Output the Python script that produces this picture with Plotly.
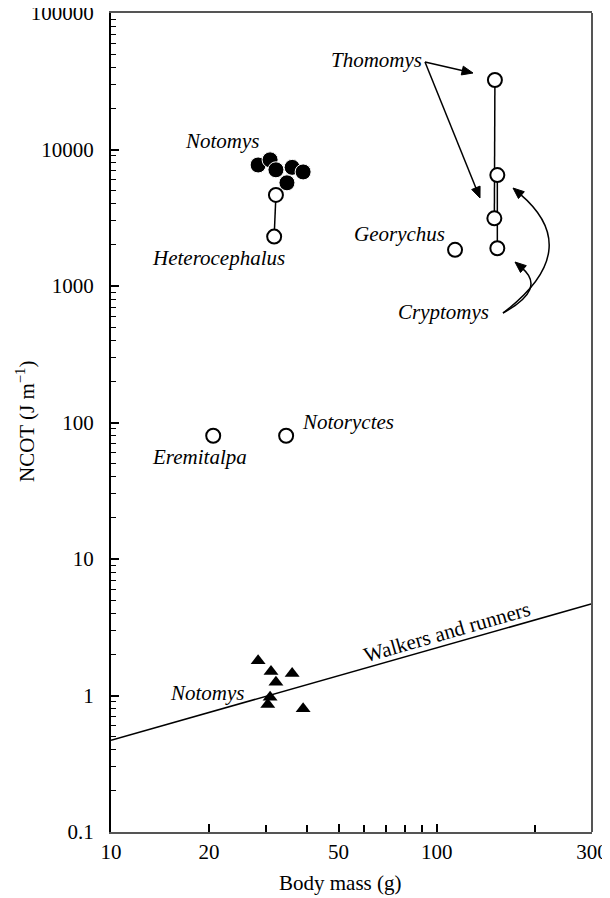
import math
import plotly.graph_objects as go

# ---------------- data ----------------
notomys_burrow_mass = [28.3, 30.8, 32.1, 36.0, 38.9, 34.7]
notomys_burrow_ncot = [7700, 8400, 7100, 7400, 6850, 5700]

hetero_mass = [32.1, 31.7]
hetero_ncot = [4650, 2300]

thomomys_mass = [151.0, 150.4]
thomomys_ncot = [32300, 3130]

cryptomys_mass = [153.6, 153.6]
cryptomys_ncot = [6500, 1890]

georychus_mass = [113.9]
georychus_ncot = [1840]

eremitalpa_mass = [20.6]
eremitalpa_ncot = [80]

notoryctes_mass = [34.5]
notoryctes_ncot = [80]

notomys_run_mass = [28.3, 31.0, 32.1, 30.8, 30.3, 36.0, 38.9]
notomys_run_ncot = [1.8, 1.5, 1.25, 0.97, 0.86, 1.45, 0.8]

walk_mass = [10, 300]
walk_ncot = [0.47, 4.7]

x_tickvals = [10, 20, 50, 100, 300]
x_ticktext = ["10", "20", "50", "100", "300"]
x_minor = [30, 40, 60, 70, 80, 90, 200]
y_tickvals = [0.1, 1, 10, 100, 1000, 10000, 100000]
y_ticktext = ["0.1", "1", "10", "100", "1000", "10000", "100000"]
y_minor = [m * 10 ** e for e in range(-1, 5) for m in range(2, 10)]

# ---------------- layout geometry ----------------
# the page body has an 8px default margin, so the figure is drawn 8px in from
# the top-left corner of the 610x898 window
OFF = 8
W, H = 610 - OFF, 898 - OFF
L, T = 111 - OFF, 13 - OFF
R, B = W - (592 - OFF), H - (832 - OFF)
PW, PH = W - L - R, H - T - B


def pp(xp, yp):
    """window pixel -> paper coordinates"""
    return (xp - OFF - L) / PW, (H - B - (yp - OFF)) / PH


FONT = "Liberation Serif"
fig = go.Figure()

# lines
for xs, ys in [(walk_mass, walk_ncot), (hetero_mass, hetero_ncot),
               (thomomys_mass, thomomys_ncot), (cryptomys_mass, cryptomys_ncot)]:
    fig.add_trace(go.Scatter(x=xs, y=ys, mode="lines",
                             line=dict(color="black", width=1.5), hoverinfo="skip"))

# filled circles
fig.add_trace(go.Scatter(x=notomys_burrow_mass, y=notomys_burrow_ncot, mode="markers",
                         marker=dict(symbol="circle", size=16, color="black",
                                     line=dict(color="white", width=1))))
# open circles
open_style = dict(symbol="circle", size=14, color="white", line=dict(color="black", width=2))
for xs, ys in [(hetero_mass, hetero_ncot), (thomomys_mass, thomomys_ncot),
               (cryptomys_mass, cryptomys_ncot), (georychus_mass, georychus_ncot),
               (eremitalpa_mass, eremitalpa_ncot), (notoryctes_mass, notoryctes_ncot)]:
    fig.add_trace(go.Scatter(x=xs, y=ys, mode="markers", marker=open_style))
# triangles
fig.add_trace(go.Scatter(x=notomys_run_mass, y=notomys_run_ncot, mode="markers",
                         marker=dict(symbol="triangle-up", size=13, color="black")))

ann = []


def label(text, xp, yp, italic=True, size=21, angle=0):
    x, y = pp(xp, yp)
    ann.append(dict(text=text, x=x, y=y, xref="paper", yref="paper", showarrow=False,
                    xanchor="center", yanchor="middle", textangle=angle,
                    font=dict(family=FONT, size=size, color="black",
                              style="italic" if italic else "normal")))


label("Notomys", 222, 141)
label("Heterocephalus", 218, 258)
label("Thomomys", 376, 60)
label("Georychus", 399, 234)
label("Cryptomys", 443, 312)
label("Eremitalpa", 199, 457)
label("Notoryctes", 348, 422)
label("Notomys", 207, 693)
label("Walkers and runners", 447, 632, italic=False, size=21, angle=-16)
label("NCOT (J m<sup>−1</sup>)", 25, 422, italic=False, size=21, angle=-90)
label("Body mass (g)", 340, 883, italic=False, size=21)

shapes = []


def head(tip, direction, length=11, half=4.5):
    """filled arrow head at pixel tip, pointing along direction (pixel vector)"""
    dx, dy = direction
    n = math.hypot(dx, dy)
    ux, uy = dx / n, dy / n
    bx, by = tip[0] - ux * length, tip[1] - uy * length
    p1 = (bx - uy * half, by + ux * half)
    p2 = (bx + uy * half, by - ux * half)
    pts = [pp(*tip), pp(*p1), pp(*p2)]
    path = "M " + " L ".join(f"{a},{b}" for a, b in pts) + " Z"
    shapes.append(dict(type="path", xref="paper", yref="paper", path=path,
                       fillcolor="black", line=dict(color="black", width=1)))
    return (tip[0] - ux * (length - 2), tip[1] - uy * (length - 2))


def straight_arrow(tail, tip):
    end = head(tip, (tip[0] - tail[0], tip[1] - tail[1]))
    a = pp(*tail); b = pp(*end)
    shapes.append(dict(type="line", xref="paper", yref="paper",
                       x0=a[0], y0=a[1], x1=b[0], y1=b[1],
                       line=dict(color="black", width=1.5)))


# Thomomys straight arrows
straight_arrow((425, 62), (473, 73))
straight_arrow((425, 62), (480, 198))

# Cryptomys curved arrows
curves = [((503, 313), (586, 250), (513, 188)),
          ((503, 313), (547, 289), (515, 262))]
for p0, c, p2 in curves:
    end = head(p2, (p2[0] - c[0], p2[1] - c[1]))
    a = pp(*p0); b = pp(*c); d = pp(*end)
    shapes.append(dict(type="path", xref="paper", yref="paper",
                       path=f"M {a[0]},{a[1]} Q {b[0]},{b[1]} {d[0]},{d[1]}",
                       line=dict(color="black", width=1.5)))

# right frame line (grey)
shapes.append(dict(type="line", xref="paper", yref="paper", x0=1, x1=1, y0=0, y1=1,
                   line=dict(color="#555", width=2)))

fig.update_layout(
    width=W, height=H, margin=dict(l=L, r=R, t=T, b=B, autoexpand=False),
    paper_bgcolor="white", plot_bgcolor="white", showlegend=False,
    font=dict(family=FONT, size=20, color="black"),
    annotations=ann, shapes=shapes,
)
fig.update_xaxes(type="log", range=[math.log10(10), math.log10(300)], automargin=False,
                 tickvals=x_tickvals, ticktext=x_ticktext, ticks="inside", ticklen=8,
                 tickwidth=1.5, tickcolor="black", showgrid=False, zeroline=False,
                 showline=True, linecolor="#555", linewidth=2, mirror=True,
                 tickfont=dict(family=FONT, size=21), ticklabeloverflow="allow",
                 minor=dict(tickvals=x_minor, ticks="inside", ticklen=7, tickwidth=1.5,
                            tickcolor="black", showgrid=False))
fig.update_yaxes(type="log", range=[-1, 5], automargin=False,
                 tickvals=y_tickvals, ticktext=y_ticktext, ticks="inside", ticklen=8,
                 tickwidth=1.5, tickcolor="black", showgrid=False, zeroline=False,
                 showline=True, linecolor="black", linewidth=2, mirror=False,
                 tickfont=dict(family=FONT, size=21), ticklabelstandoff=11,
                 ticklabeloverflow="allow",
                 minor=dict(tickvals=y_minor, ticks="inside", ticklen=5, tickwidth=1.2,
                            tickcolor="black", showgrid=False))

fig.write_html("out.html")
